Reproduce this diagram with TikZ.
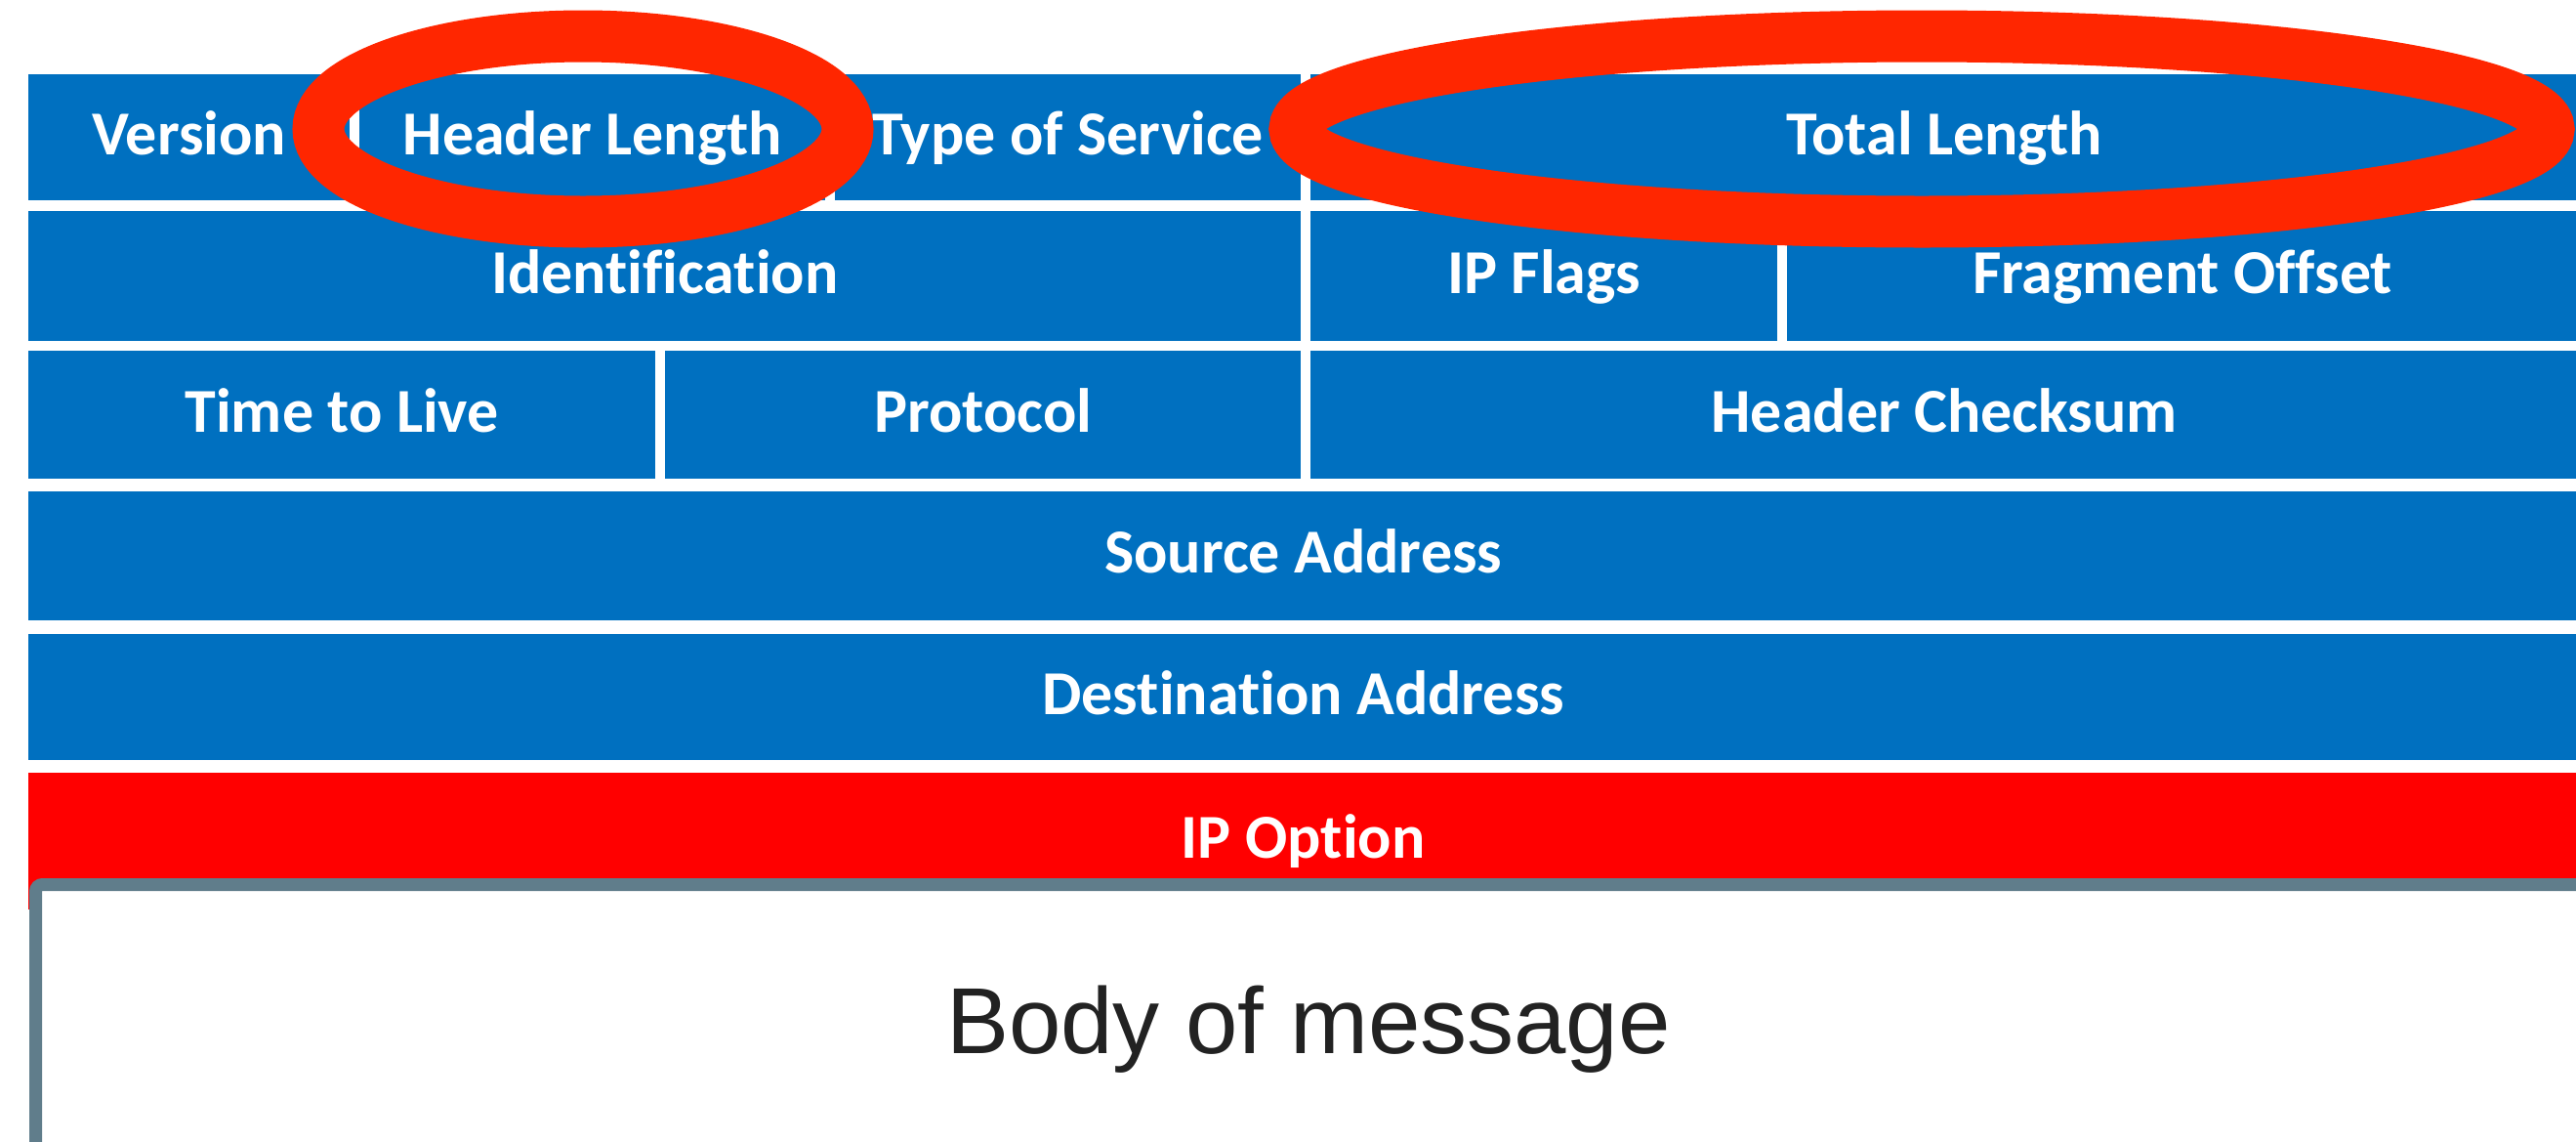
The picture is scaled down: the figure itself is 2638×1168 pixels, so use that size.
\documentclass[tikz,border=0pt]{standalone}
\usepackage{fontspec}
\newfontfamily\fieldfont{Carlito}[Ligatures=NoCommon]
\newfontfamily\bodyfont{Liberation Sans}
\definecolor{fieldblue}{RGB}{0,112,192}
\definecolor{optred}{RGB}{255,0,0}
\definecolor{ringred}{RGB}{255,38,0}
\definecolor{framegray}{RGB}{96,125,139}
\definecolor{bodyink}{RGB}{34,34,34}
\begin{document}
\begin{tikzpicture}[x=1pt,y=-1pt,
  field/.style={fill=fieldblue, draw=none, inner sep=0pt, anchor=north west,
    text=white, font=\fieldfont\bfseries\fontsize{64pt}{72pt}\selectfont,
    text height=39pt, text depth=4pt},
  option/.style={field, fill=optred},
  ring/.style={draw=ringred, line width=53pt},
  bodybox/.style={draw=framegray, line width=13pt, fill=white, rounded corners=7pt}]
\useasboundingbox (0,0) rectangle (2638,1168);
\clip (0,0) rectangle (2638,1168);
\fill[white] (0,0) rectangle (2638,1168);

% row 1
\node[field, minimum width=329pt,  minimum height=129pt] (ver)  at (29,76)   {Version};
\node[field, minimum width=477pt,  minimum height=129pt] (hlen) at (368,76)  {Header Length};
\node[field, minimum width=477pt,  minimum height=129pt] (tos)  at (855,76)  {Type of Service};
\node[field, minimum width=1298pt, minimum height=129pt] (tlen) at (1342,76) {Total Length};
% row 2
\node[field, minimum width=1303pt, minimum height=133pt] (ident) at (29,216)   {Identification};
\node[field, minimum width=478pt,  minimum height=133pt] (flags) at (1342,216) {IP Flags};
\node[field, minimum width=810pt,  minimum height=133pt] (frag)  at (1830,216) {Fragment Offset};
% row 3
\node[field, minimum width=642pt,  minimum height=131pt] (ttl)   at (29,359)   {Time to Live};
\node[field, minimum width=651pt,  minimum height=131pt] (proto) at (681,359)  {Protocol};
\node[field, minimum width=1298pt, minimum height=131pt] (chk)   at (1342,359) {Header Checksum};
% rows 4 and 5
\node[field, minimum width=2611pt, minimum height=132pt] (src) at (29,503) {Source Address};
\node[field, minimum width=2611pt, minimum height=129pt] (dst) at (29,649) {Destination Address};
% options row
\node[option, minimum width=2611pt, minimum height=140pt] (opt) at (29,791) {IP Option};

% payload frame
\draw[bodybox] (36.5,905.5) rectangle (2720,1260);
\node[font=\bodyfont\fontsize{96pt}{110pt}\selectfont, text=bodyink, anchor=base,
  inner sep=0pt] (body) at (1340,1078) {Body of message};

% highlight rings
\draw[ring] (597,132) ellipse [x radius=271pt, y radius=95pt];
\draw[ring] (1968,132) ellipse [x radius=642pt, y radius=95pt];
\end{tikzpicture}
\end{document}
